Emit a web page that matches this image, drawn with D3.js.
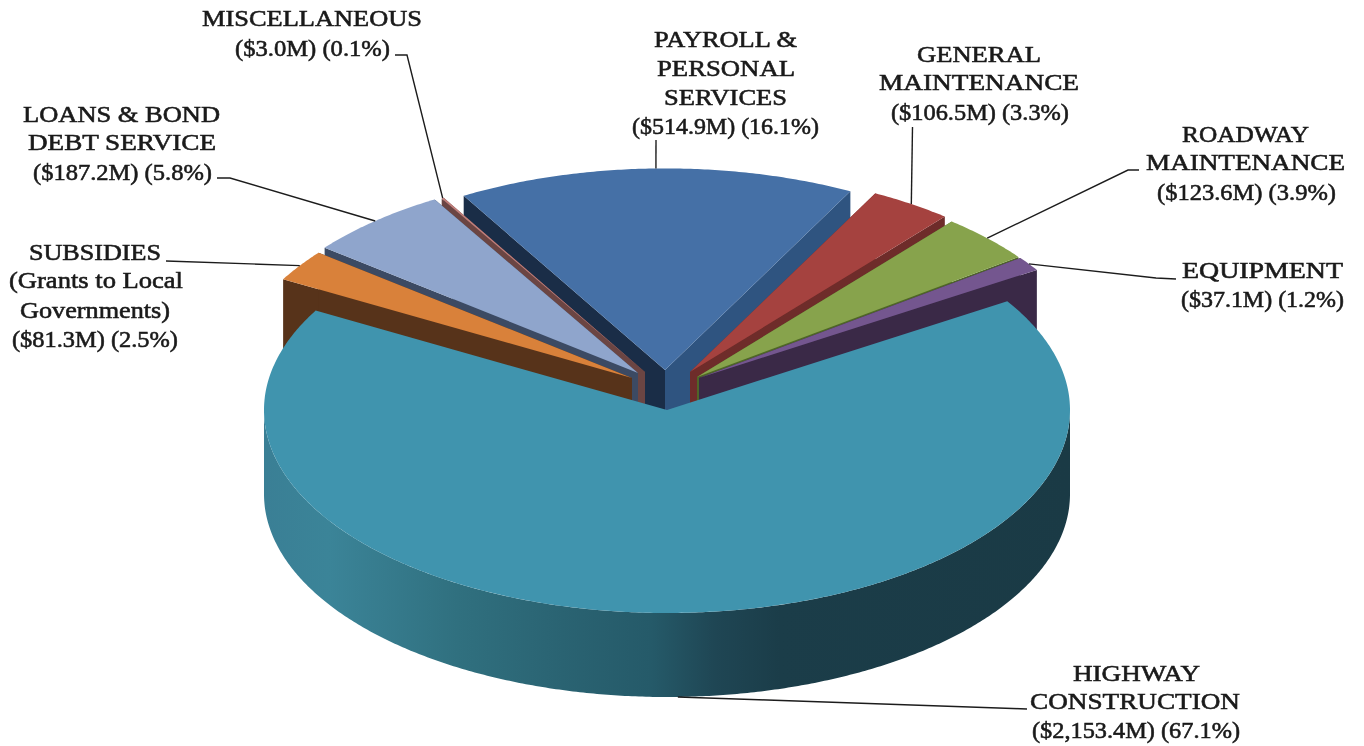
<!DOCTYPE html>
<html><head><meta charset="utf-8">
<script src="https://cdnjs.cloudflare.com/ajax/libs/d3/7.8.5/d3.min.js"></script>
<style>html,body{margin:0;padding:0;background:#fff;overflow:hidden}svg{display:block;filter:blur(0.35px)}</style>
</head><body><svg id="c" width="1364" height="746"></svg>
<script>
// ---- data ----
const categories = ["PAYROLL & PERSONAL SERVICES","GENERAL MAINTENANCE","ROADWAY MAINTENANCE","EQUIPMENT","HIGHWAY CONSTRUCTION","SUBSIDIES (Grants to Local Governments)","LOANS & BOND DEBT SERVICE","MISCELLANEOUS"];
const values = [514.9,106.5,123.6,37.1,2153.4,81.3,187.2,3.0];
const labelLines = [
 ["PAYROLL &","PERSONAL","SERVICES","($514.9M) (16.1%)"],
 ["GENERAL","MAINTENANCE","($106.5M) (3.3%)"],
 ["ROADWAY","MAINTENANCE","($123.6M) (3.9%)"],
 ["EQUIPMENT","($37.1M) (1.2%)"],
 ["HIGHWAY","CONSTRUCTION","($2,153.4M) (67.1%)"],
 ["SUBSIDIES","(Grants to Local","Governments)","($81.3M) (2.5%)"],
 ["LOANS & BOND","DEBT SERVICE","($187.2M) (5.8%)"],
 ["MISCELLANEOUS","($3.0M) (0.1%)"]
];
// ---- styles ----
const topColors = ["#4570a6","#a5423f","#87a34c","#74568f","#4094ae","#d9813a","#8fa5cc","#c17f7c"];
const startWallColors = ["#1a2d47","#6e2c2a","#4f6628","#3a2947","none","#57331a","#3c4a63","#6b4543"];
const endWallColors = ["#2f5480","#6e2c2a","#4f6628","#3a2947","none","#57331a","#3c4a63","#6b4543"];
const wallStops = [[0,"#3a7f95"],[0.08,"#3b8498"],[0.24,"#30707f"],[0.37,"#2a6372"],[0.48,"#255a69"],[0.56,"#1f4654"],[0.64,"#1b3d49"],[1,"#1a3a45"]];
// ---- layout ----
const center = {x:667,y:410};
const radiusX = 403, radiusY = 203, depth = 84;
const sliceScale = [0.993,0.993,0.993,0.993,1,0.993,0.993,0.993];
const apexes = [[665,370],[690,372],[697,377],[699,378],[667,410],[632,378],[638,373],[645,372]];
const drawOrder = [0,7,6,5,1,2,3,4];
const firstAngle = -30.2;
const labelBoxes = [ // per line: left, right, baseline
 [[654,797,47],[657,795,76],[664,787,105],[632,819,134]],
 [[917,1041,62],[879,1079,90],[891,1069,120]],
 [[1182,1309,142],[1146,1345,170],[1157,1336,200]],
 [[1182,1343,278],[1181,1344,307]],
 [[1073,1200,681],[1030,1240,709],[1032,1240,738]],
 [[29,161,260],[9,183,288],[20,170,318],[12,178,347]],
 [[23,220,122],[28,216,150],[33,212,180]],
 [[202,422,26],[235,390,56]]
];
const leaderElbows = [ // from label side toward slice
 [[656,140]],
 [[912.5,127]],
 [[1139,170],[1128,170]],
 [[1176,279],[1156,278]],
 [[1027,709]],
 [[166,261]],
 [[217,178],[230,178]],
 [[395,55],[407,55]]
];

const svg = d3.select("#c");
const defs = svg.append("defs");
const grad = defs.append("linearGradient").attr("id","wall").attr("gradientUnits","userSpaceOnUse")
  .attr("x1",center.x-radiusX).attr("x2",center.x+radiusX).attr("y1",0).attr("y2",0);
wallStops.forEach(s=>grad.append("stop").attr("offset",s[0]).attr("stop-color",s[1]));

const rad = d=>d*Math.PI/180;
const arcs = d3.pie().sort(null).startAngle(rad(firstAngle)).endAngle(rad(firstAngle+360))(values);
const px = d3.scaleLinear().domain([-1,1]).range([-radiusX,radiusX]);
const py = d3.scaleLinear().domain([-1,1]).range([-radiusY,radiusY]);
const pt = (i,a,z=0)=>[apexes[i][0]+px(Math.sin(a)*sliceScale[i]),apexes[i][1]-py(Math.cos(a)*sliceScale[i])+z];
const line = d3.line();
const arcPts = (i,a0,a1,z=0)=>{
  const n = Math.max(2,Math.ceil(Math.abs(a1-a0)/rad(0.5)));
  return d3.range(n+1).map(k=>pt(i,a0+(a1-a0)*k/n,z));
};
const g = svg.append("g");
drawOrder.forEach(i=>{
  const d = arcs[i], A = apexes[i];
  if(i===4){
    const a0 = Math.PI/2, a1 = Math.PI*1.5;
    const top = arcPts(i,a0,a1), bot = arcPts(i,a1,a0,depth);
    g.append("path").attr("d",line(top.concat(bot))+"Z").attr("fill","url(#wall)");
  } else {
    const wall=(a,c)=>{
      const p=pt(i,a);
      g.append("path").attr("d",line([p,A,[A[0],A[1]+depth],[p[0],p[1]+depth]])+"Z").attr("fill",c);
    };
    wall(d.startAngle,startWallColors[i]);
    wall(d.endAngle,endWallColors[i]);
  }
  g.append("path").attr("d",line([A].concat(arcPts(i,d.startAngle,d.endAngle)))+"Z").attr("fill",topColors[i]);
});
// leaders
const lg = svg.append("g").attr("fill","none").attr("stroke","#1c1c1c").attr("stroke-width",1.4);
arcs.forEach((d,i)=>{
  const mid=(d.startAngle+d.endAngle)/2;
  const end=pt(i,mid,i===4?depth:0);
  lg.append("path").attr("d",line(leaderElbows[i].concat([end])));
});
// labels
const tg = svg.append("g").attr("font-family","'Liberation Serif',serif").attr("font-size",24).attr("font-weight",400)
  .attr("fill","#1a1a1a").attr("stroke","#1a1a1a").attr("stroke-width",0.6).attr("text-anchor","middle");
labelLines.forEach((ls,i)=>ls.forEach((t,j)=>{
  const b=labelBoxes[i][j];
  tg.append("text").attr("x",(b[0]+b[1])/2).attr("y",b[2]).attr("textLength",b[1]-b[0]).attr("lengthAdjust","spacingAndGlyphs").text(t);
}));
</script></body></html>
